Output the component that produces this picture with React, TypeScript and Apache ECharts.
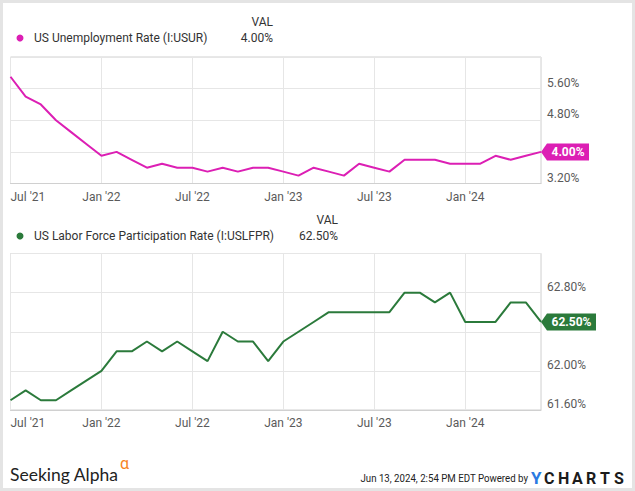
import React, { useEffect, useRef } from 'react';
import * as echarts from 'echarts';

// Monthly observations (month-end), Jun 2021 – May 2024
const months = [
  '2021-06', '2021-07', '2021-08', '2021-09', '2021-10', '2021-11', '2021-12',
  '2022-01', '2022-02', '2022-03', '2022-04', '2022-05', '2022-06', '2022-07', '2022-08', '2022-09', '2022-10', '2022-11', '2022-12',
  '2023-01', '2023-02', '2023-03', '2023-04', '2023-05', '2023-06', '2023-07', '2023-08', '2023-09', '2023-10', '2023-11', '2023-12',
  '2024-01', '2024-02', '2024-03', '2024-04', '2024-05',
];

const unemploymentRate = [
  5.9, 5.4, 5.2, 4.8, 4.5, 4.2, 3.9,
  4.0, 3.8, 3.6, 3.7, 3.6, 3.6, 3.5, 3.6, 3.5, 3.6, 3.6, 3.5,
  3.4, 3.6, 3.5, 3.4, 3.7, 3.6, 3.5, 3.8, 3.8, 3.8, 3.7, 3.7,
  3.7, 3.9, 3.8, 3.9, 4.0,
];

const laborForceRate = [
  61.7, 61.8, 61.7, 61.7, 61.8, 61.9, 62.0,
  62.2, 62.2, 62.3, 62.2, 62.3, 62.2, 62.1, 62.4, 62.3, 62.3, 62.1, 62.3,
  62.4, 62.5, 62.6, 62.6, 62.6, 62.6, 62.6, 62.8, 62.8, 62.7, 62.8, 62.5,
  62.5, 62.5, 62.7, 62.7, 62.5,
];

// x ticks: months counted from Jan 2021 (month-end of Jun 2021 == start of Jul 2021 == 6)
const xTickValues = [6, 12, 18, 24, 30, 36];
const xTickLabels = ["Jul '21", "Jan '22", "Jul '22", "Jan '23", "Jul '23", "Jan '24"];

const unemploymentAxis = { min: 3.2, max: 6.4, interval: 0.8 };
const laborAxis = { min: 61.6, max: 63.2, interval: 0.4 };

const seriesNames = ['US Unemployment Rate (I:USUR)', 'US Labor Force Participation Rate (I:USLFPR)'];
const PINK = '#dc1fb4';
const GREEN = '#2b7a3b';
const FONT = 'Roboto, "Noto Sans", sans-serif';

function xOf(m: string): number {
  const [y, mo] = m.split('-').map(Number);
  return (y - 2021) * 12 + mo;
}

const fmtPct = (v: number) => v.toFixed(2) + '%';

export default function App() {
  const ref = useRef<HTMLDivElement>(null);

  useEffect(() => {
    if (!ref.current) return;
    const chart = echarts.init(ref.current, null, { renderer: 'svg' });
    const xs = months.map(xOf);
    const xMin = xs[0];
    const xMax = xs[xs.length - 1];

    const lastU = unemploymentRate[unemploymentRate.length - 1];
    const lastL = laborForceRate[laborForceRate.length - 1];

    const xAxisBase = (gridIndex: number) => ({
      type: 'value' as const,
      gridIndex,
      min: xMin,
      max: xMax,
      interval: 6,
      axisLine: { show: true, lineStyle: { color: '#d0d0d0', width: 1 } },
      axisTick: { show: false },
      splitLine: { show: true, lineStyle: { color: '#e6e6e6', width: 1 } },
      axisLabel: {
        color: '#5a5a5a',
        fontSize: 12,
        fontFamily: FONT,
        margin: 7,
        alignMinLabel: 'left',
        formatter: (v: number) => {
          const i = xTickValues.indexOf(Math.round(v));
          return i >= 0 ? xTickLabels[i] : '';
        },
      },
    });

    const yAxisBase = (gridIndex: number, a: { min: number; max: number; interval: number }, last: number) => ({
      type: 'value' as const,
      gridIndex,
      position: 'right' as const,
      min: a.min,
      max: a.max,
      interval: a.interval,
      axisLine: { show: false },
      axisTick: { show: false },
      splitLine: { show: true, lineStyle: { color: '#e6e6e6', width: 1 } },
      axisLabel: {
        color: '#5a5a5a',
        fontSize: 12,
        fontFamily: FONT,
        margin: 6,
        verticalAlign: 'bottom',
        showMaxLabel: false,
        // labels sitting under the value tag are hidden by it in the reference
        formatter: (v: number) => (Math.abs(v - last) < a.interval * 0.4 ? '' : fmtPct(v)),
      },
    });

    const tag = (value: number, x: number, color: string, w: number) => ({
      silent: true,
      symbol: `path://M0,8.5 L6,0 L${w},0 L${w},17 L6,17 Z`,
      symbolSize: [w, 17],
      symbolKeepAspect: false,
      symbolOffset: [w / 2, 0],
      itemStyle: { color },
      label: {
        show: true,
        position: 'inside',
        offset: [3, 0],
        color: '#ffffff',
        fontWeight: 'bold',
        fontSize: 12,
        fontFamily: FONT,
        formatter: () => fmtPct(value),
      },
      data: [{ coord: [x, value], value }],
    });

    const legendRow = (y: number, name: string, val: number, color: string, valRight: number) => [
      { type: 'text', style: { text: 'VAL', x: valRight, y: y - 16, textAlign: 'right', textVerticalAlign: 'middle', fill: '#333', font: `12px ${FONT}` } },
      { type: 'circle', shape: { cx: 20, cy: y, r: 3.5 }, style: { fill: color } },
      { type: 'text', style: { text: name, x: 34, y, textVerticalAlign: 'middle', fill: '#333', font: `12px ${FONT}` } },
      { type: 'text', style: { text: fmtPct(val), x: valRight, y, textAlign: 'right', textVerticalAlign: 'middle', fill: '#333', font: `12px ${FONT}` } },
    ];

    const ycharts = ['C', 'H', 'A', 'R', 'T', 'S'].map((ch, i) => ({
      type: 'text',
      style: { text: ch, x: 544 + i * 14, y: 478, textVerticalAlign: 'middle', fill: '#1b1b1b', font: `bold 16px ${FONT}` },
    }));

    chart.setOption({
      animation: false,
      backgroundColor: '#ffffff',
      grid: [
        { left: 10.5, top: 57, width: 530.5, height: 126.5, show: true, borderColor: '#d0d0d0', borderWidth: 1 },
        { left: 10.5, top: 253.5, width: 530.5, height: 156.5, show: true, borderColor: '#d0d0d0', borderWidth: 1 },
      ],
      xAxis: [xAxisBase(0), xAxisBase(1)],
      yAxis: [yAxisBase(0, unemploymentAxis, lastU), yAxisBase(1, laborAxis, lastL)],
      series: [
        {
          type: 'line',
          name: seriesNames[0],
          xAxisIndex: 0,
          yAxisIndex: 0,
          symbol: 'none',
          lineStyle: { color: PINK, width: 2 },
          data: xs.map((x, i) => [x, unemploymentRate[i]]),
          markPoint: tag(lastU, xMax, PINK, 48),
          z: 5,
        },
        {
          type: 'line',
          name: seriesNames[1],
          xAxisIndex: 1,
          yAxisIndex: 1,
          symbol: 'none',
          lineStyle: { color: GREEN, width: 2 },
          data: xs.map((x, i) => [x, laborForceRate[i]]),
          markPoint: tag(lastL, xMax, GREEN, 55),
          z: 5,
        },
      ],
      graphic: [
        { type: 'rect', silent: true, shape: { x: 1.5, y: 1.5, width: 632, height: 488 }, style: { fill: 'none', stroke: '#e4e4e4', lineWidth: 3 } },
        ...legendRow(38, seriesNames[0], lastU, PINK, 273),
        ...legendRow(236, seriesNames[1], lastL, GREEN, 338),
        { type: 'text', style: { text: 'Seeking Alpha', x: 10, y: 474, textVerticalAlign: 'middle', fill: '#222', font: `17.5px Lato, ${FONT}` } },
        { type: 'text', style: { text: 'α', x: 120, y: 463, textVerticalAlign: 'middle', fill: '#f7841f', font: `16px ${FONT}` } },
        {
          type: 'text',
          x: 528,
          y: 478,
          scaleX: 0.88,
          style: { text: 'Jun 13, 2024, 2:54 PM EDT Powered by', x: 0, y: 0, textAlign: 'right', textVerticalAlign: 'middle', fill: '#222', font: `11px ${FONT}` },
        },
        { type: 'text', style: { text: 'Y', x: 531, y: 478, textVerticalAlign: 'middle', fill: '#2a7ae2', font: `bold 17px ${FONT}` } },
        ...ycharts,
      ],
    });

    return () => chart.dispose();
  }, []);

  return (
    <div style={{ position: 'fixed', left: 0, top: 0, width: 635, height: 491, background: '#fff' }}>
      <div ref={ref} style={{ width: 635, height: 491 }} />
    </div>
  );
}
